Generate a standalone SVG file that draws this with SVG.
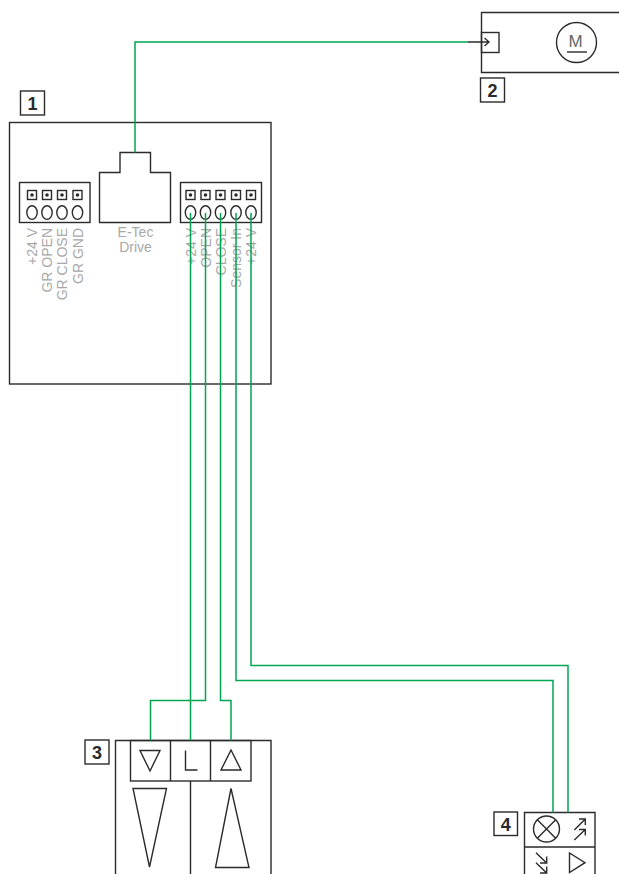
<svg xmlns="http://www.w3.org/2000/svg" width="619" height="874" viewBox="0 0 619 874">
<style>
.k{fill:none;stroke:#2b2b2b;stroke-width:1.4}
.g{fill:none;stroke:#00a651;stroke-width:1.5}
.t{font-family:"Liberation Sans",Arial,sans-serif;font-size:14px;fill:#a8a8a8}
.n{font-family:"Liberation Sans",Arial,sans-serif;font-size:18px;font-weight:bold;fill:#2b2b2b;text-anchor:middle}
.d{fill:#2b2b2b}
</style>
<defs>
<g id="pin"><rect x="-4.500" y="-4.500" width="9" height="9" class="k"/><circle r="1.800" class="d"/><ellipse cy="17.600" rx="5.200" ry="6.800" class="k"/></g>
</defs>
<g id="node-1">
<rect x="9.500" y="122.500" width="261.500" height="261.500" class="k"/>
<rect x="20.500" y="91" width="24" height="24" class="k"/><text x="32.500" y="109.500" class="n">1</text>
<rect x="19.500" y="182.500" width="70.500" height="40" class="k"/>
<use href="#pin" x="32" y="195"/><use href="#pin" x="47" y="195"/><use href="#pin" x="62" y="195"/><use href="#pin" x="77.500" y="195"/>
<rect x="180.500" y="182.500" width="81" height="40" class="k"/>
<use href="#pin" x="190.500" y="195"/><use href="#pin" x="205.500" y="195"/><use href="#pin" x="220.500" y="195"/><use href="#pin" x="236" y="195"/><use href="#pin" x="251" y="195"/>
<path d="M99.500 222.500V172.500H120V152.500H150.500V172.500H170.500V222.500Z" class="k"/>
<text x="135.500" y="237" class="t" text-anchor="middle">E-Tec</text>
<text x="135.500" y="252" class="t" text-anchor="middle">Drive</text>
<g class="t" text-anchor="end">
<text transform="translate(37,228) rotate(-90)">+24 V</text>
<text transform="translate(52,228) rotate(-90)">GR OPEN</text>
<text transform="translate(67,228) rotate(-90)">GR CLOSE</text>
<text transform="translate(82.500,228) rotate(-90)">GR GND</text>
<text transform="translate(195.500,228) rotate(-90)">+24 V</text>
<text transform="translate(210.500,228) rotate(-90)">OPEN</text>
<text transform="translate(225.500,228) rotate(-90)">CLOSE</text>
<text transform="translate(240.500,228) rotate(-90)">Sensor In</text>
<text transform="translate(256,228) rotate(-90)">+24 V</text>
</g>
</g>
<g id="node-2">
<path d="M619 12.500H481.500V72.500H619" class="k"/>
<rect x="481.500" y="32.500" width="17.500" height="20" class="k"/>
<circle cx="576.500" cy="42.500" r="20" class="k"/>
<text x="575.500" y="47" class="t" text-anchor="middle" style="fill:#666;font-size:17px">M</text>
<path d="M567 52H587" class="k"/>
<rect x="480.500" y="78" width="24" height="24" class="k"/><text x="492.500" y="96.500" class="n">2</text>
</g>
<g id="node-3">
<path d="M115.500 874V740.500H271V874" class="k"/>
<rect x="130.500" y="740.500" width="120.500" height="40.500" class="k"/>
<path d="M170.500 740.500V781M210.500 740.500V781M190.500 781V874" class="k"/>
<path d="M140 750.500H160L150 771Z" class="k"/>
<path d="M185.500 750.500V770H197.500" class="k"/>
<path d="M221 770H241L231 750Z" class="k"/>
<path d="M133 788.500H166.500L149.500 867Z" class="k"/>
<path d="M231 788.500L249 867.500H215.500Z" class="k"/>
<rect x="85" y="740" width="24" height="24" class="k"/><text x="97" y="758.500" class="n">3</text>
</g>
<g id="node-4">
<path d="M524.500 874V812.500H595V874M524.500 847H595" class="k"/>
<circle cx="546.500" cy="829" r="13" class="k"/>
<path d="M537.300 819.800L555.700 838.200M555.700 819.800L537.300 838.200" class="k"/>
<path d="M574.300 830L585.300 819M579 819H585.300V825M574.300 840L585.300 829.500M579 829.500H585.300V835.500" class="k"/>
<path d="M536 852.700L546.700 863M546.700 856.500V863H540M536 862.700L546.700 873M546.700 866.500V873H540" class="k"/>
<path d="M569.500 853V872.500L585 862.700Z" class="k"/>
<rect x="494" y="812" width="23.500" height="23.500" class="k"/><text x="505.700" y="830.500" class="n">4</text>
</g>
<g id="connectors">
<path d="M135 152.500V42H468" class="g"/>
<path d="M468 42H489M484.500 38L489 42L484.500 46" class="k"/>
<path d="M190.500 213V740.500" class="g"/>
<path d="M205.500 213V700.500H150.500V740.500" class="g"/>
<path d="M220.500 213V700.500H231V740.500" class="g"/>
<path d="M236 213V680.500H553V812.500" class="g"/>
<path d="M251 213V665.500H568V812.500" class="g"/>
</g>
</svg>
